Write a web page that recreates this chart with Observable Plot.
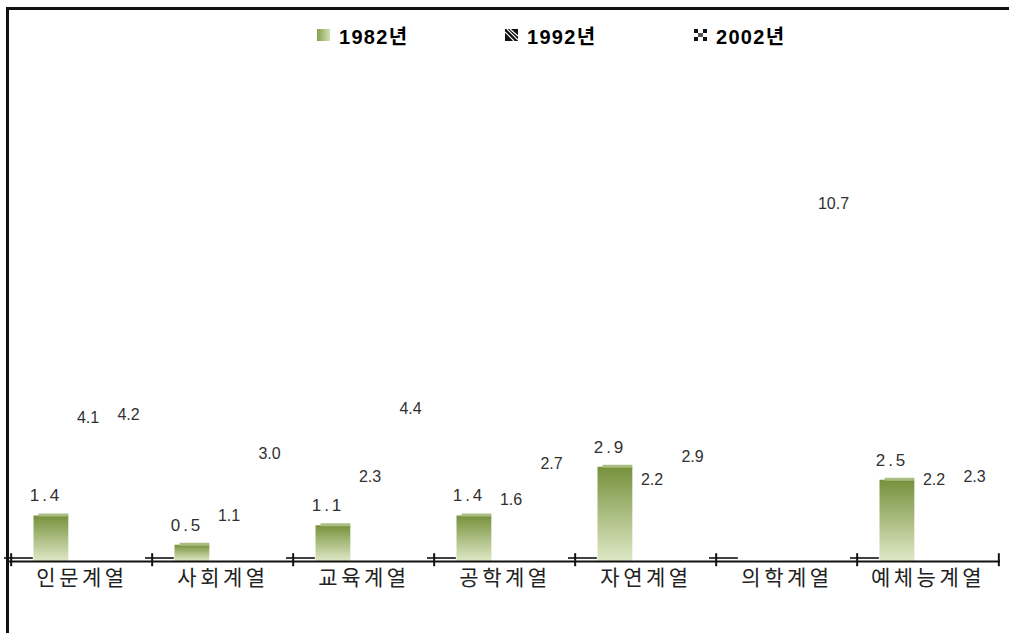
<!DOCTYPE html>
<html>
<head>
<meta charset="utf-8">
<script src="https://cdn.jsdelivr.net/npm/d3@7"></script>
<script src="https://cdn.jsdelivr.net/npm/@observablehq/plot@0.6"></script>
<style>
  html, body { margin: 0; padding: 0; background: #fff; }
  #wrap { position: relative; width: 1009px; height: 633px; overflow: hidden; }
  #frame { position: absolute; left: 6px; top: 7px; width: 1010px; height: 640px;
           border-top: 3px solid #111; border-left: 3px solid #111; box-sizing: border-box; }
  #chart { position: absolute; left: 0; top: 0; }
  .leg { position: absolute; top: 23px; height: 24px; display: flex; align-items: center;
         font: bold 20px "Liberation Sans", "Noto Sans CJK KR", sans-serif; letter-spacing: 1.3px; color: #000; }
  .leg svg { margin-right: 9px; }
  svg g[aria-label="x-axis tick label"] { letter-spacing: 3.5px; }
</style>
</head>
<body>
<div id="wrap">
  <div id="chart"></div>
  <div id="frame"></div>
  <div id="legend"></div>
</div>
<script>
// ---- data ----
const categories = ["인문계열", "사회계열", "교육계열", "공학계열", "자연계열", "의학계열", "예체능계열"];
const seriesNames = ["1982년", "1992년", "2002년"];
const v1982 = [1.4, 0.5, 1.1, 1.4, 2.9, null, 2.5];
const v1992 = [4.1, 1.1, 2.3, 1.6, 2.2, null, 2.2];
const v2002 = [4.2, 3.0, 4.4, 2.7, 2.9, 10.7, 2.3];

const rows = (vals) => categories.map((c, i) => ({category: c, value: vals[i]})).filter(d => d.value != null);
const r1982 = rows(v1982), r1992 = rows(v1992), r2002 = rows(v2002);

// ---- layout ----
const W = 1009, H = 633, mL = 8.3, mR = 9;
const step = (W - mL - mR) / categories.length;
const off0 = 22.5, bw = 35.5;
const inL = k => off0 + bw * k;
const inR = k => step - off0 - bw * (k + 1);
const fmt = d3.format(".1f");

const chart = Plot.plot({
  width: W, height: H,
  marginLeft: mL, marginRight: mR, marginTop: 41, marginBottom: 72,
  style: {fontFamily: "'Noto Sans CJK KR', sans-serif", background: "transparent", overflow: "visible"},
  x: {domain: categories, padding: 0, label: null},
  y: {domain: [0, 16], axis: null},
  marks: [
    Plot.axisX({tickSize: 0, tickPadding: 9, fontSize: 21, fill: "#222", label: null}),
    Plot.barY(r1982, {x: "category", y: "value", fill: "url(#g1982)", insetLeft: inL(0), insetRight: inR(0)}),
    Plot.tickY(r1982, {x: "category", y: "value", stroke: "#a9bc82", strokeWidth: 3, dy: -1, insetLeft: inL(0) + 5, insetRight: inR(0)}),
    Plot.barY(r1992, {x: "category", y: "value", fill: "white", insetLeft: inL(1), insetRight: inR(1)}),
    Plot.barY(r2002, {x: "category", y: "value", fill: "white", insetLeft: inL(2), insetRight: inR(2)}),
    Plot.tickY(categories, {x: d => d, y: 0, dy: -3.5, stroke: "#111", strokeWidth: 1.6, insetLeft: -7, insetRight: step - off0}),
    Plot.ruleY([0], {stroke: "#111", strokeWidth: 2}),
    Plot.ruleX(categories, {x: d => d, y1: -0.16, y2: 0.24, dx: -step / 2, stroke: "#111", strokeWidth: 2}),
    Plot.ruleX([categories[categories.length - 1]], {x: d => d, y1: -0.16, y2: 0.24, dx: step / 2, stroke: "#111", strokeWidth: 2}),
    Plot.text(r1982, {x: "category", y: "value", text: d => fmt(d.value), dx: -36, dy: -20,
      fontSize: 17, fill: "#303031", fontFamily: "'Liberation Sans', sans-serif"}),
    Plot.text(r1992, {x: "category", y: "value", text: d => fmt(d.value), dx: 6, dy: -10,
      fontSize: 16, fill: "#303030", fontFamily: "'Liberation Sans', sans-serif"}),
    Plot.text(r2002, {x: "category", y: "value", text: d => fmt(d.value), dx: 46.5, dy: -10,
      fontSize: 16, fill: "#303030", fontFamily: "'Liberation Sans', sans-serif"})
  ]
});

// gradient definition for 1982 bars
const defs = d3.select(chart).insert("defs", ":first-child");
const g = defs.append("linearGradient").attr("id", "g1982").attr("x1", 0).attr("y1", 0).attr("x2", 0).attr("y2", 1);
g.append("stop").attr("offset", "0%").attr("stop-color", "#76913c");
g.append("stop").attr("offset", "100%").attr("stop-color", "#dfe8c6");
d3.select(chart).selectAll('g[fill="#303031"]').style("letter-spacing", "3px");

document.getElementById("chart").appendChild(chart);

// ---- legend ----
const legend = document.getElementById("legend");
const swatches = [
  `<svg width="13" height="12"><defs><linearGradient id="lg1" x1="0" x2="1" y1="0" y2="0"><stop offset="0" stop-color="#86a050"/><stop offset="1" stop-color="#d3dfb4"/></linearGradient></defs><rect width="13" height="12" fill="url(#lg1)"/></svg>`,
  `<svg width="13" height="12"><rect width="13" height="12" fill="#111"/><path d="M2,0 L13,11 M0,3 L9,12 M5,0 L13,7" stroke="#fff" stroke-width="1.2"/></svg>`,
  `<svg width="13" height="12"><rect width="13" height="12" fill="#fff"/><rect x="0" y="0" width="4" height="4" fill="#111"/><rect x="9" y="0" width="4" height="4" fill="#111"/><rect x="0" y="8" width="4" height="4" fill="#111"/><rect x="9" y="8" width="4" height="4" fill="#111"/><rect x="4" y="4" width="5" height="4" fill="#555"/></svg>`
];
const legX = [317, 505, 694];
seriesNames.forEach((s, i) => {
  const d = document.createElement("div");
  d.className = "leg";
  d.style.left = legX[i] + "px";
  d.innerHTML = swatches[i] + `<span>${s}</span>`;
  legend.appendChild(d);
});
</script>
</body>
</html>
